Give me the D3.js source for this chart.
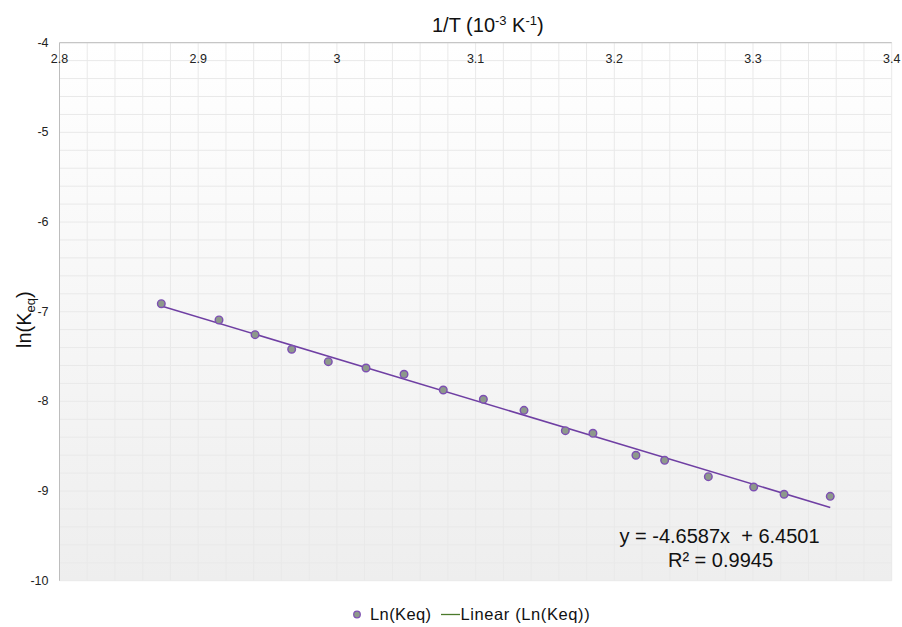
<!DOCTYPE html>
<html><head><meta charset="utf-8">
<script src="https://cdn.jsdelivr.net/npm/d3@7"></script>
<style>body{margin:0;background:#fff}svg{display:block;font-family:"Liberation Sans",Arial,sans-serif}</style>
</head><body>
<svg id="c" width="902" height="627"></svg>
<script>
const invT = [2.8734,2.915,2.941,2.9674,2.9938,3.021,3.0484,3.0767,3.1056,3.1349,3.1647,3.1846,3.2156,3.2363,3.2678,3.3005,3.3224,3.3557];
const lnK  = [-6.911,-7.092,-7.256,-7.419,-7.557,-7.628,-7.698,-7.873,-7.977,-8.100,-8.327,-8.356,-8.601,-8.657,-8.840,-8.955,-9.036,-9.059];
const fitCoef = [-4.6587, 6.4501];
const xTicks = [2.8,2.9,3.0,3.1,3.2,3.3,3.4];
const xTickLabels = ["2.8","2.9","3","3.1","3.2","3.3","3.4"];
const yTicks = [-4,-5,-6,-7,-8,-9,-10];

const svg = d3.select("#c");
const L=59.5,R=891.7,T=42.7,B=580.7;
const x = d3.scaleLinear().domain([2.8,3.4]).range([L,R]);
const y = d3.scaleLinear().domain([-10,-4]).range([B,T]);

const defs = svg.append("defs");
const g = defs.append("linearGradient").attr("id","bg").attr("x1",0).attr("y1",0).attr("x2",0).attr("y2",1);
g.append("stop").attr("offset","0%").attr("stop-color","#ffffff");
g.append("stop").attr("offset","100%").attr("stop-color","#eeeeee");
svg.append("rect").attr("x",L).attr("y",T).attr("width",R-L).attr("height",B-T).attr("fill","url(#bg)");

// minor grid
const grid = svg.append("g").attr("stroke","#e9e9e9").attr("stroke-width",1);
grid.selectAll(".vx").data(x.ticks(30)).join("line")
  .attr("x1",d=>x(d)).attr("x2",d=>x(d)).attr("y1",T).attr("y2",B);
grid.selectAll(".hy").data(y.ticks(30)).join("line")
  .attr("x1",L).attr("x2",R).attr("y1",d=>y(d)).attr("y2",d=>y(d));

// axes lines
svg.append("line").attr("x1",L).attr("x2",R).attr("y1",T).attr("y2",T).attr("stroke","#bdbdbd");
svg.append("line").attr("x1",L).attr("x2",L).attr("y1",T).attr("y2",B).attr("stroke","#bdbdbd");

// x tick labels (inside, below top)
svg.append("g").selectAll("text").data(xTicks).join("text")
  .attr("x",d=>x(d)).attr("y",T+20).attr("text-anchor","middle")
  .attr("font-size",12.5).attr("fill","#222").text((d,i)=>xTickLabels[i]);
// y tick labels
svg.append("g").selectAll("text").data(yTicks).join("text")
  .attr("x",L-11).attr("y",d=>y(d)+4).attr("text-anchor","end")
  .attr("font-size",12.5).attr("fill","#222").text(d=>d);

// titles
const xt = svg.append("text").attr("x",432).attr("y",32).attr("font-size",20).attr("fill","#111");
xt.append("tspan").text("1/T (10");
xt.append("tspan").attr("font-size",13).attr("dy",-7).text("-3");
xt.append("tspan").attr("dy",7).text(" K");
xt.append("tspan").attr("font-size",13).attr("dy",-7).text("-1");
xt.append("tspan").attr("dy",7).text(")");

const yt = svg.append("text").attr("transform","translate(31,348) rotate(-90)").attr("font-size",20).attr("fill","#111");
yt.append("tspan").text("ln(K");
yt.append("tspan").attr("font-size",13).attr("dy",4).text("eq");
yt.append("tspan").attr("dy",-4).text(")");

// trendline
const xe = d3.extent(invT);
svg.append("line")
  .attr("x1",x(xe[0])).attr("y1",y(fitCoef[0]*xe[0]+fitCoef[1]))
  .attr("x2",x(xe[1])).attr("y2",y(fitCoef[0]*xe[1]+fitCoef[1]))
  .attr("stroke","#6f3fa3").attr("stroke-width",1.5);

// points
svg.append("g").selectAll("circle").data(invT).join("circle")
  .attr("cx",d=>x(d)).attr("cy",(d,i)=>y(lnK[i])).attr("r",3.8)
  .attr("fill","#8d998b").attr("stroke","#7d4fb3").attr("stroke-width",1.4);

// equation
svg.append("text").attr("x",719.5).attr("y",543).attr("text-anchor","middle").attr("font-size",20).attr("fill","#111")
  .style("white-space","pre").text(`y = ${fitCoef[0]}x  + ${fitCoef[1]}`);
svg.append("text").attr("x",720.5).attr("y",567).attr("text-anchor","middle").attr("font-size",20).attr("fill","#111")
  .text("R² = 0.9945");

// legend
svg.append("circle").attr("cx",357).attr("cy",614.5).attr("r",3.3).attr("fill","#8d998b").attr("stroke","#7d4fb3").attr("stroke-width",1.2);
svg.append("text").attr("x",370).attr("y",620).attr("font-size",16.5).attr("letter-spacing",0.4).attr("fill","#111").text("Ln(Keq)");
svg.append("line").attr("x1",441).attr("x2",460).attr("y1",614.5).attr("y2",614.5).attr("stroke","#4b7a2b").attr("stroke-width",1.3);
svg.append("text").attr("x",460.5).attr("y",620).attr("font-size",16.5).attr("letter-spacing",0.6).attr("fill","#111").text("Linear (Ln(Keq))");
</script>
</body></html>
